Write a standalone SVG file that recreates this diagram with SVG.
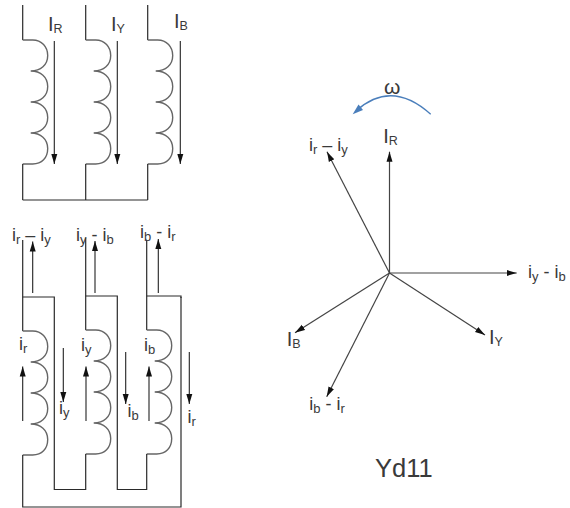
<svg xmlns="http://www.w3.org/2000/svg" width="570" height="508" viewBox="0 0 570 508">
<style>
.w{fill:none;stroke:#2a2a2a;stroke-width:1.2}
.c{fill:none;stroke:#666;stroke-width:1.4}
.a{fill:none;stroke:#222;stroke-width:1.1;marker-end:url(#h)}
.g{fill:none;stroke:#444;stroke-width:1.2;marker-end:url(#h)}
text{font-family:"Liberation Sans",Arial,sans-serif;fill:#3a3a3a;font-size:20px}
.s{font-size:12.500px}
.t{font-size:18px}
.ts{font-size:13px}
</style>
<defs>
<marker id="h" markerUnits="userSpaceOnUse" markerWidth="11" markerHeight="8" refX="10" refY="4" orient="auto"><path d="M0 1L10 4L0 7Z" fill="#111"/></marker>
<path id="coil" class="c" d="M0 0H10C19 0 25 7 25 15.500C25 25 18 31 8 31C18 31 25 37 25 46.500C25 56 18 62 8 62C18 62 25 68 25 77.500C25 87 18 93 8 93C18 93 25 99 25 108.500C25 118 19 124 10 124H0"/>
</defs>
<g id="wye-windings">
<g id="winding-R"><path class="w" d="M22.700 5V40"/><use href="#coil" x="22.700" y="40"/><path class="w" d="M22.700 164V200"/></g>
<g id="winding-Y"><path class="w" d="M85.700 5V40"/><use href="#coil" x="85.700" y="40"/><path class="w" d="M85.700 164V200"/></g>
<g id="winding-B"><path class="w" d="M147.700 5V40"/><use href="#coil" x="147.700" y="40"/><path class="w" d="M147.700 164V200"/></g>
<path id="neutral" class="w" d="M22.700 200H147.700"/>
<text x="48" y="31">I<tspan class="s" dy="2">R</tspan></text>
<text x="111" y="31">I<tspan class="s" dy="2">Y</tspan></text>
<text x="174" y="28">I<tspan class="s" dy="2">B</tspan></text>
</g>
<g id="delta-windings">
<g id="winding-r"><path class="w" d="M22.700 240V331"/><use href="#coil" x="22.700" y="331"/><path class="w" d="M22.700 455V507H181V297"/></g>
<g id="winding-y"><path class="w" d="M85.700 238V330"/><use href="#coil" x="85.700" y="330"/><path class="w" d="M85.700 454V489.500H54.300V297H22.700"/></g>
<g id="winding-b"><path class="w" d="M146.700 240V330"/><use href="#coil" x="146.700" y="330"/><path class="w" d="M146.700 454V489.500H117.300V296H85.700M146.700 296H181V298"/></g>
<text class="t" x="12" y="241">i<tspan class="ts" dy="3">r</tspan><tspan dy="-3"> – i</tspan><tspan class="ts" dy="3">y</tspan></text>
<text class="t" x="76" y="241">i<tspan class="ts" dy="3">y</tspan><tspan dy="-3"> - i</tspan><tspan class="ts" dy="3">b</tspan></text>
<text class="t" x="140" y="238">i<tspan class="ts" dy="3">b</tspan><tspan dy="-3"> - i</tspan><tspan class="ts" dy="3">r</tspan></text>
<text class="t" x="19" y="350">i<tspan class="ts" dy="3">r</tspan></text>
<text class="t" x="81" y="351">i<tspan class="ts" dy="3">y</tspan></text>
<text class="t" x="144" y="351">i<tspan class="ts" dy="3">b</tspan></text>
<text class="t" x="59" y="414">i<tspan class="ts" dy="3">y</tspan></text>
<text class="t" x="127.500" y="417">i<tspan class="ts" dy="3">b</tspan></text>
<text class="t" x="187.500" y="423">i<tspan class="ts" dy="3">r</tspan></text>
</g>
<g id="connectors">
<path class="a" d="M54.300 41V164"/><path class="a" d="M117.300 41V164"/><path class="a" d="M180.300 41V164"/>
<path class="a" d="M32.700 293V241.500"/><path class="a" d="M95 293V241"/><path class="a" d="M158.300 293V239"/>
<path class="a" d="M22.700 421V366.500"/><path class="a" d="M86 421V366.500"/><path class="a" d="M149 421V366.500"/>
<path class="a" d="M63.300 348V402"/><path class="a" d="M125.700 352V404"/><path class="a" d="M189.300 352V404"/>
<path class="g" d="M389.500 273V151.700"/><path class="g" d="M389.500 273L327 151.700"/><path class="g" d="M389.500 273H516.700"/><path class="g" d="M389.500 273L485 335"/><path class="g" d="M389.500 273L295 332.700"/><path class="g" d="M389.500 273L326.700 396.700"/>
<path d="M430.700 114.300Q391.500 79 356 111" fill="none" stroke="#4a7ebb" stroke-width="1.3"/>
<path d="M352.700 114.300L358.500 104.500L363 110Z" fill="#4a7ebb"/>
</g>
<g id="phasor-labels">
<text x="383.300" y="143">I<tspan class="s" dy="2">R</tspan></text>
<text class="t" x="309" y="151">i<tspan class="ts" dy="3">r</tspan><tspan dy="-3"> – i</tspan><tspan class="ts" dy="3">y</tspan></text>
<text class="t" x="528" y="278">i<tspan class="ts" dy="3">y</tspan><tspan dy="-3"> - i</tspan><tspan class="ts" dy="3">b</tspan></text>
<text x="489" y="344">I<tspan class="s" dy="2">Y</tspan></text>
<text x="286.700" y="346">I<tspan class="s" dy="2">B</tspan></text>
<text class="t" x="309.300" y="410">i<tspan class="ts" dy="3">b</tspan><tspan dy="-3"> - i</tspan><tspan class="ts" dy="3">r</tspan></text>
<text x="384" y="94" style="font-size:21px">ω</text>
<text x="375" y="477" style="font-size:25.500px">Yd11</text>
</g>
</svg>
